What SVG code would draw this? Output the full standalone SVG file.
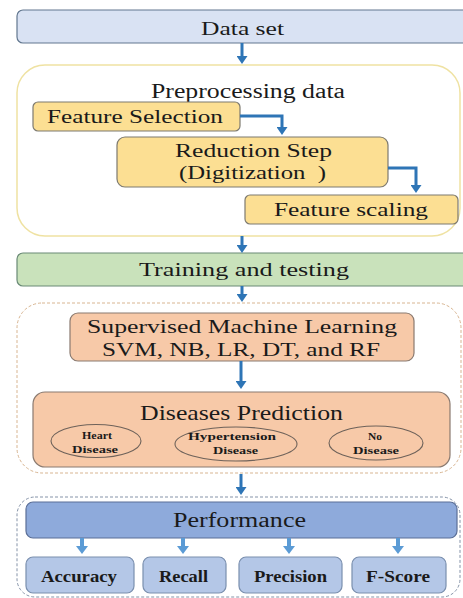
<svg xmlns="http://www.w3.org/2000/svg" width="463" height="598" viewBox="0 0 463 598">
  <style>
    text { font-family: "Liberation Serif", "Times New Roman", serif; fill: #1a1a1a; text-anchor: middle; }
    .t19 { font-size: 19px; }
    .t20 { font-size: 20px; }
    .t22 { font-size: 22px; }
    .small { font-size: 11px; font-weight: bold; }
    .metric { font-size: 17px; font-weight: bold; }
    .blueBar { fill: #d9e2f3; stroke: #62778f; stroke-width: 1.2; }
    .greenBar { fill: #c9e2bb; stroke: #6a8a76; stroke-width: 1.2; }
    .yellow { fill: #fcdf93; stroke: #7d7a70; stroke-width: 1.2; }
    .peach { fill: #f7c9a8; stroke: #8a7a70; stroke-width: 1.2; }
    .oval { fill: #f7c9a8; stroke: #6e625a; stroke-width: 1.1; }
    .perf { fill: #8eaadb; stroke: #5b6f97; stroke-width: 1.2; }
    .metricBox { fill: #b4c7e7; stroke: #7a8fae; stroke-width: 1.2; }
    .conn { fill: none; stroke: #2e75b6; stroke-width: 3; marker-end: url(#head); }
    .conn2 { fill: none; stroke: #5b9bd5; stroke-width: 4; marker-end: url(#head2); }
  </style>
  <defs>
    <marker id="head" viewBox="0 0 8 11" markerWidth="8" markerHeight="11" refX="1" refY="5.5" orient="auto" markerUnits="userSpaceOnUse">
      <path d="M0,0 L8,5.5 L0,11 Z" fill="#2e75b6"/>
    </marker>
    <marker id="head2" viewBox="0 0 8 12" markerWidth="8" markerHeight="12" refX="1" refY="6" orient="auto" markerUnits="userSpaceOnUse">
      <path d="M0,0 L8,6 L0,12 Z" fill="#5b9bd5"/>
    </marker>
  </defs>

  <rect width="463" height="598" fill="#ffffff"/>

  <!-- containers -->
  <g id="preprocessing-group">
    <rect x="17" y="65" width="443" height="171" rx="28" fill="#ffffff" stroke="#efe2a2" stroke-width="1.5"/>
    <text class="t20" x="248" y="98" textLength="194" lengthAdjust="spacingAndGlyphs">Preprocessing data</text>
  </g>
  <g id="learning-group">
    <rect x="17" y="303" width="444" height="170" rx="25" fill="#ffffff" stroke="#d8b591" stroke-width="1" stroke-dasharray="3 2"/>
  </g>
  <g id="performance-group">
    <rect x="17" y="497" width="443" height="100" rx="18" fill="#ffffff" stroke="#8593a8" stroke-width="1" stroke-dasharray="3 2"/>
  </g>

  <!-- nodes -->
  <g id="dataset">
    <rect class="blueBar" x="17" y="10" width="460" height="33" rx="6"/>
    <text class="t19" x="242.5" y="35" textLength="83" lengthAdjust="spacingAndGlyphs">Data set</text>
  </g>
  <g id="feature-selection">
    <rect class="yellow" x="33" y="102" width="207" height="29" rx="5"/>
    <text class="t19" x="135" y="123" textLength="176" lengthAdjust="spacingAndGlyphs">Feature Selection</text>
  </g>
  <g id="reduction-step">
    <rect class="yellow" x="117" y="137" width="271" height="50" rx="8"/>
    <text class="t19" x="253.5" y="157" textLength="157" lengthAdjust="spacingAndGlyphs">Reduction Step</text>
    <text class="t19" x="252.5" y="179" textLength="147" lengthAdjust="spacingAndGlyphs" xml:space="preserve">(Digitization  )</text>
  </g>
  <g id="feature-scaling">
    <rect class="yellow" x="245" y="195" width="213" height="29" rx="5"/>
    <text class="t19" x="351" y="216" textLength="154" lengthAdjust="spacingAndGlyphs">Feature scaling</text>
  </g>
  <g id="training-testing">
    <rect class="greenBar" x="17" y="253" width="460" height="33" rx="6"/>
    <text class="t19" x="244" y="276" textLength="210" lengthAdjust="spacingAndGlyphs">Training and testing</text>
  </g>
  <g id="supervised-ml">
    <rect class="peach" x="70" y="313" width="344" height="48" rx="8"/>
    <text class="t19" x="242" y="333" textLength="310" lengthAdjust="spacingAndGlyphs">Supervised Machine Learning</text>
    <text class="t19" x="241" y="356" textLength="278" lengthAdjust="spacingAndGlyphs">SVM, NB, LR, DT, and RF</text>
  </g>
  <g id="diseases-prediction">
    <rect class="peach" x="33" y="392" width="417" height="75" rx="12"/>
    <text class="t22" x="241.5" y="420" textLength="203" lengthAdjust="spacingAndGlyphs">Diseases Prediction</text>
  </g>
  <g id="heart-disease">
    <ellipse class="oval" cx="96" cy="441" rx="45" ry="16.5"/>
    <text class="small" x="97" y="439" textLength="30" lengthAdjust="spacingAndGlyphs">Heart</text>
    <text class="small" x="95" y="453" textLength="46" lengthAdjust="spacingAndGlyphs">Disease</text>
  </g>
  <g id="hypertension-disease">
    <ellipse class="oval" cx="236" cy="444" rx="61" ry="17"/>
    <text class="small" x="232" y="440" textLength="88" lengthAdjust="spacingAndGlyphs">Hypertension</text>
    <text class="small" x="235.5" y="454" textLength="45" lengthAdjust="spacingAndGlyphs">Disease</text>
  </g>
  <g id="no-disease">
    <ellipse class="oval" cx="376" cy="443" rx="47" ry="17"/>
    <text class="small" x="375" y="440" textLength="14" lengthAdjust="spacingAndGlyphs">No</text>
    <text class="small" x="376" y="454" textLength="46" lengthAdjust="spacingAndGlyphs">Disease</text>
  </g>
  <g id="performance">
    <rect class="perf" x="26" y="502" width="431" height="36" rx="7"/>
    <text class="t20" x="239.5" y="527" textLength="133" lengthAdjust="spacingAndGlyphs">Performance</text>
  </g>
  <g id="accuracy">
    <rect class="metricBox" x="26" y="557" width="108" height="36" rx="7"/>
    <text class="metric" x="79" y="582" textLength="76" lengthAdjust="spacingAndGlyphs">Accuracy</text>
  </g>
  <g id="recall">
    <rect class="metricBox" x="143" y="557" width="83" height="36" rx="7"/>
    <text class="metric" x="183.5" y="582" textLength="49" lengthAdjust="spacingAndGlyphs">Recall</text>
  </g>
  <g id="precision">
    <rect class="metricBox" x="239" y="557" width="103" height="36" rx="7"/>
    <text class="metric" x="290.5" y="582" textLength="73" lengthAdjust="spacingAndGlyphs">Precision</text>
  </g>
  <g id="f-score">
    <rect class="metricBox" x="352" y="557" width="94" height="36" rx="7"/>
    <text class="metric" x="398" y="582" textLength="64" lengthAdjust="spacingAndGlyphs">F-Score</text>
  </g>

  <!-- connectors -->
  <g id="connectors">
    <path class="conn" d="M242,43 V57"/>
    <path class="conn" d="M240,116 H282 V128"/>
    <path class="conn" d="M388,168 H416 V186"/>
    <path class="conn" d="M242,236 V246"/>
    <path class="conn" d="M242,286 V295"/>
    <path class="conn" d="M241,361 V382"/>
    <path class="conn" d="M241,474 V488"/>
    <path class="conn2" d="M82,538 V547"/>
    <path class="conn2" d="M183,538 V547"/>
    <path class="conn2" d="M289,538 V547"/>
    <path class="conn2" d="M398,538 V547"/>
  </g>
</svg>
